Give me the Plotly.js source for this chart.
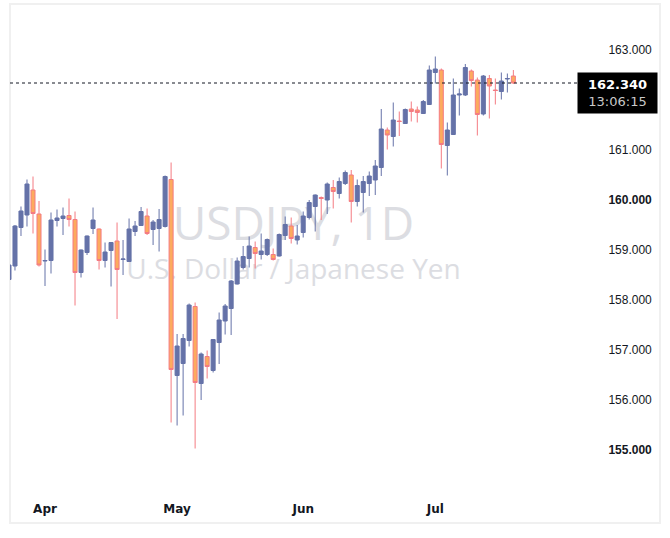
<!DOCTYPE html>
<html>
<head>
<meta charset="utf-8">
<script src="https://cdn.plot.ly/plotly-3.0.1.min.js"></script>
<style>
html,body{margin:0;padding:0;background:#ffffff;}
#chart{width:670px;height:538px;}
</style>
</head>
<body>
<div id="chart"></div>
<script>
// Trading days (category axis)
const dates = [
 '2024-03-22',
 '2024-03-25','2024-03-26','2024-03-27','2024-03-28','2024-03-29',
 '2024-04-01','2024-04-02','2024-04-03','2024-04-04','2024-04-05',
 '2024-04-08','2024-04-09','2024-04-10','2024-04-11','2024-04-12',
 '2024-04-15','2024-04-16','2024-04-17','2024-04-18','2024-04-19',
 '2024-04-22','2024-04-23','2024-04-24','2024-04-25','2024-04-26',
 '2024-04-29','2024-04-30',
 '2024-05-01','2024-05-02','2024-05-03',
 '2024-05-06','2024-05-07','2024-05-08','2024-05-09','2024-05-10',
 '2024-05-13','2024-05-14','2024-05-15','2024-05-16','2024-05-17',
 '2024-05-20','2024-05-21','2024-05-22','2024-05-23','2024-05-24',
 '2024-05-27','2024-05-28','2024-05-29','2024-05-30','2024-05-31',
 '2024-06-03','2024-06-04','2024-06-05','2024-06-06','2024-06-07',
 '2024-06-10','2024-06-11','2024-06-12','2024-06-13','2024-06-14',
 '2024-06-17','2024-06-18','2024-06-19','2024-06-20','2024-06-21',
 '2024-06-24','2024-06-25','2024-06-26','2024-06-27','2024-06-28',
 '2024-07-01','2024-07-02','2024-07-03','2024-07-04','2024-07-05',
 '2024-07-08','2024-07-09','2024-07-10','2024-07-11','2024-07-12',
 '2024-07-15','2024-07-16','2024-07-17','2024-07-18'
];

const openP = [
 158.41,158.68,159.45,159.70,160.20,159.72,158.78,158.79,159.59,159.63,
 159.69,159.61,158.55,158.95,159.43,159.42,158.79,158.99,159.18,158.81,
 158.77,159.37,159.49,159.68,159.41,159.43,159.47,160.41,156.49,156.73,
 157.19,157.87,156.33,156.87,156.59,157.15,157.58,157.83,158.32,158.65,
 158.83,159.05,158.91,158.91,158.91,158.88,159.29,159.48,159.20,159.35,
 159.65,159.87,160.05,160.00,160.25,160.13,160.33,160.50,159.97,160.15,
 160.33,160.40,160.65,161.40,161.27,161.58,161.53,161.82,161.80,161.73,
 161.91,162.55,162.60,161.09,161.31,162.10,162.10,162.58,162.40,161.72,
 162.43,162.20,162.17,162.42,162.48
];
const highP = [
 158.75,159.50,159.87,160.41,160.47,159.98,159.01,159.75,159.81,159.85,
 160.03,159.77,159.01,159.29,159.85,159.43,159.15,159.15,159.55,159.20,
 159.63,159.58,159.86,159.83,159.60,159.82,160.49,160.75,157.32,157.32,
 157.93,157.95,156.95,156.99,157.22,157.75,157.92,158.40,158.85,159.08,
 159.27,159.17,159.33,159.23,159.03,159.33,159.67,159.65,159.50,159.77,
 160.00,160.11,160.07,160.35,160.40,160.45,160.59,160.60,160.41,160.48,
 160.57,160.80,161.82,161.45,161.95,161.77,161.83,161.97,161.87,162.00,
 162.69,162.87,162.63,161.55,162.43,162.23,162.72,162.61,162.45,162.50,
 162.50,162.43,162.55,162.53,162.60
];
const lowP = [
 158.35,158.59,159.28,159.47,159.33,158.67,158.28,158.53,159.47,159.30,
 159.47,157.89,158.45,158.90,159.32,158.61,158.65,158.27,157.62,158.50,
 158.77,159.28,159.48,159.30,159.10,158.97,159.45,155.55,155.49,155.69,
 157.07,155.03,156.00,156.43,156.55,156.72,157.31,157.30,158.31,158.61,
 158.65,158.63,158.81,158.88,158.79,158.87,159.20,159.13,159.11,159.25,
 159.61,159.37,159.60,159.72,159.83,160.03,160.30,159.55,159.87,159.75,
 160.08,160.10,160.48,161.01,161.07,161.28,161.52,161.57,161.55,161.72,
 161.90,162.33,160.63,160.49,161.30,161.69,162.08,162.27,161.29,161.69,
 161.63,161.91,162.01,162.15,162.32
];
const closeP = [
 158.70,159.48,159.78,160.32,159.73,158.70,158.79,159.60,159.64,159.68,
 159.61,158.55,159.00,159.28,159.60,158.79,158.96,159.15,158.61,158.82,
 159.42,159.48,159.77,159.33,159.56,159.61,160.47,156.61,157.08,157.23,
 157.90,156.35,156.92,156.67,157.21,157.60,157.88,158.38,158.78,158.87,
 159.08,158.93,158.98,159.21,158.81,159.31,159.51,159.23,159.28,159.68,
 159.95,160.10,160.03,160.32,160.17,160.37,160.55,159.97,160.29,160.37,
 160.48,160.68,161.42,161.30,161.60,161.57,161.81,161.77,161.75,161.97,
 162.60,162.62,161.11,161.40,162.10,162.12,162.65,162.39,161.71,162.48,
 162.28,162.19,162.38,162.43,162.34
];

const priceTicks = [155,156,157,158,159,160,161,163];
const priceTickText = ['<b>155.000</b>','156.000','157.000','158.000','159.000','<b>160.000</b>','161.000','163.000'];
const monthTickDates = ['2024-04-01','2024-05-01','2024-05-30','2024-07-01'];
const monthTickText = ['Apr','May','Jun','Jul'];

const lastPrice = 162.34;
const lastPriceText = '162.340';
const countdownText = '13:06:15';
const symbolTitle = 'USDJPY, 1D';
const symbolName = 'U.S. Dollar / Japanese Yen';

const upColor = '#6572a8';
const downLine = '#f47b82';
const downFill = '#fcab5e';

const trace = {
  type: 'candlestick',
  x: dates, open: openP, high: highP, low: lowP, close: closeP,
  increasing: {line: {color: upColor, width: 1}, fillcolor: upColor},
  decreasing: {line: {color: downLine, width: 1}, fillcolor: downFill},
  whiskerwidth: 0,
  hoverinfo: 'none',
  showlegend: false
};

const layout = {
  width: 670, height: 538,
  margin: {l: 10, r: 93, t: 5, b: 48, pad: 0},
  paper_bgcolor: '#ffffff',
  plot_bgcolor: 'rgba(0,0,0,0)',
  showlegend: false,
  boxgap: 0.33, boxgroupgap: 0,
  font: {family: 'Liberation Sans, Arial, sans-serif', color: '#131722', size: 12},
  xaxis: {
    type: 'category',
    range: [0.17, 94.6],
    tickvals: monthTickDates, ticktext: monthTickText,
    showgrid: false, zeroline: false, showline: false,
    ticks: 'outside', ticklen: 8, tickcolor: 'rgba(0,0,0,0)',
    tickfont: {family: 'DejaVu Sans, sans-serif', size: 12, color: '#131722', weight: 'bold'},
    rangeslider: {visible: false},
    fixedrange: true
  },
  yaxis: {
    side: 'right',
    range: [154.2, 163.9],
    tickvals: priceTicks, ticktext: priceTickText,
    showgrid: false, zeroline: false, showline: false,
    ticks: 'outside', ticklen: 28, tickcolor: 'rgba(0,0,0,0)',
    tickfont: {family: 'Liberation Sans, Arial, sans-serif', size: 12, color: '#131722'},
    fixedrange: true
  },
  shapes: [
    {type: 'rect', xref: 'paper', yref: 'paper', x0: 0, x1: 1.1464, y0: -0.068, y1: 1.002,
     line: {color: '#f0f0f0', width: 2}, fillcolor: 'rgba(0,0,0,0)', layer: 'below'},
    {type: 'rect', xref: 'paper', yref: 'y', x0: 0, x1: 1, y0: 159.5, y1: 159.5,
     line: {width: 0}, fillcolor: 'rgba(0,0,0,0)', layer: 'below',
     label: {text: symbolTitle, textposition: 'middle center',
             font: {family: 'Open Sans, sans-serif', size: 46, color: '#dcdde2'}}},
    {type: 'rect', xref: 'paper', yref: 'y', x0: 0, x1: 1, y0: 158.6, y1: 158.6,
     line: {width: 0}, fillcolor: 'rgba(0,0,0,0)', layer: 'below',
     label: {text: symbolName, textposition: 'middle center',
             font: {family: 'Open Sans, sans-serif', size: 28, color: '#dcdde2'}}},
    {type: 'line', xref: 'paper', yref: 'y', x0: 0, x1: 1, y0: lastPrice, y1: lastPrice,
     line: {color: '#131722', width: 1, dash: 'dot'}, layer: 'above'}
  ],
  annotations: [
    {xref: 'paper', yref: 'y', x: 1, y: lastPrice, xanchor: 'left', yanchor: 'top', yshift: 11,
     text: '<b>' + lastPriceText + '</b><br><span style="color:#c9c9c9">' + countdownText + '</span>',
     showarrow: false, align: 'center', bgcolor: '#000000', borderpad: 4,
     width: 71, height: 32,
     font: {family: 'DejaVu Sans, sans-serif', size: 13, color: '#ffffff'}}
  ]
};

Plotly.newPlot('chart', [trace], layout, {staticPlot: true, displayModeBar: false});
</script>
</body>
</html>
